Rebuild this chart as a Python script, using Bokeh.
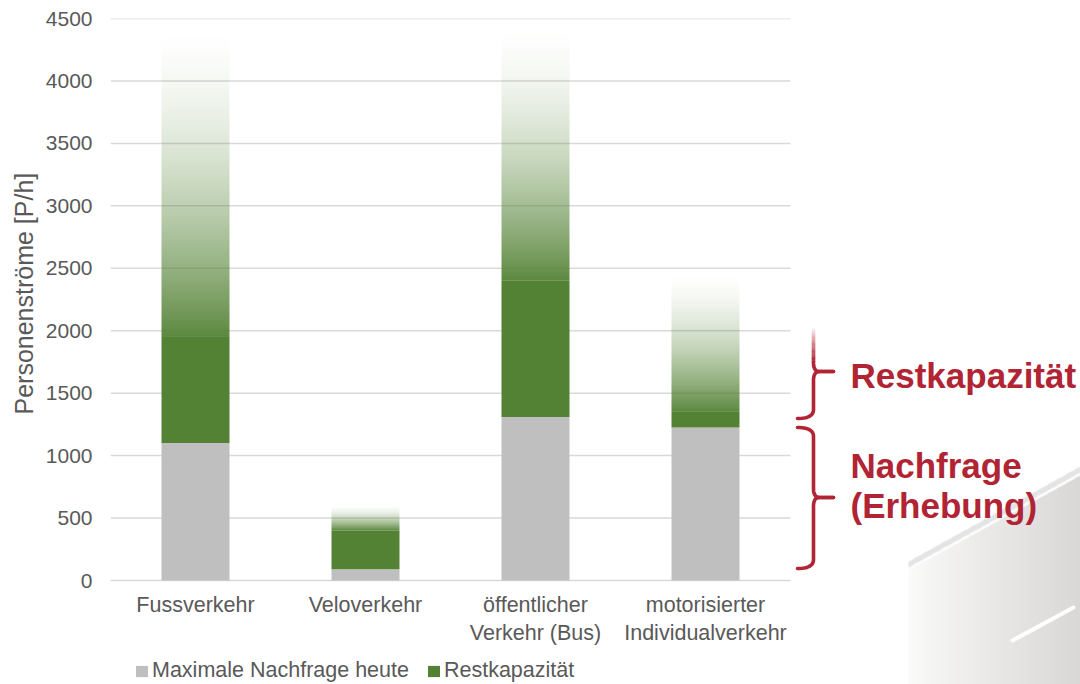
import numpy as np
from bokeh.plotting import figure
from bokeh.models import (ColumnDataSource, Range1d, LinearAxis, FixedTicker,
                          Legend, LegendItem, Title)
from bokeh.core.properties import value
from bokeh.embed import file_html
from bokeh.resources import INLINE

# ---------------- data ----------------
categories = ["Fussverkehr", "Veloverkehr", "öffentlicher\nVerkehr (Bus)",
              "motorisierter\nIndividualverkehr"]
nachfrage = [1100, 90, 1310, 1225]          # Maximale Nachfrage heute (grey)
restkap_sicher = [1950, 400, 2400, 1350]    # top of solid green part
restkap_max = [4500, 600, 4500, 2500]       # top of faded green part
y_ticks = [0, 500, 1000, 1500, 2000, 2500, 3000, 3500, 4000, 4500]
legend_labels = ["Maximale Nachfrage heute", "Restkapazität"]
y_label = "Personenströme [P/h]"
brace_rest = [1297, 1673, 2026]             # bottom, tip, top
brace_nachfrage = [96, 665, 1225]
brace_labels = ["Restkapazität", "Nachfrage", "(Erhebung)"]

# ---------------- styles / layout ----------------
FONT = "Liberation Sans"
GREY_TXT = "#595959"
GREY_BAR = "#BFBFBF"
GREEN = "#548235"
GREEN_RGB = (0x54, 0x82, 0x35)
RED = "#B02434"
GRID = "#D9D9D9"

W, H = 1080, 684
LEFT, TOP = 110, 18
PX_X = 170.0
PX_Y = 562.0 / 4500.0
X_MIN, Y_MAX = -0.5, 4500.0
X_MAX = X_MIN + (W - LEFT) / PX_X
Y_MIN = Y_MAX - (H - TOP) / PX_Y
BRACE_LABEL_SY = [374.5, 464.5, 504.5]      # screen rows of the red labels
BRACE_LABEL_SX = 850


def sx2x(sx):
    return X_MIN + (sx - LEFT) / PX_X


def sy2y(sy):
    return Y_MAX - (sy - TOP) / PX_Y


def rgba_image(r, g, b, a):
    h, w = a.shape
    img = np.empty((h, w), dtype=np.uint32)
    view = img.view(dtype=np.uint8).reshape((h, w, 4))
    view[:, :, 0] = np.clip(r, 0, 255).astype(np.uint8)
    view[:, :, 1] = np.clip(g, 0, 255).astype(np.uint8)
    view[:, :, 2] = np.clip(b, 0, 255).astype(np.uint8)
    view[:, :, 3] = np.clip(a, 0, 255).astype(np.uint8)
    return img


p = figure(width=W, height=H, output_backend="svg", toolbar_location=None,
           x_range=Range1d(X_MIN, X_MAX), y_range=Range1d(Y_MIN, Y_MAX),
           min_border_left=LEFT, min_border_right=0, min_border_top=TOP,
           min_border_bottom=0, x_axis_location=None, y_axis_location=None)
p.outline_line_color = None
p.background_fill_color = "white"
p.border_fill_color = "white"
p.xgrid.visible = False
p.ygrid.visible = False

# ---------------- decoration (bottom right) ----------------
D_L, D_R, D_T, D_B = 908, 1080, 466, 684


def deco_top(sx):
    return 561 + (466 - 561) * (sx - 908) / (1080 - 908)


cols = D_L + np.arange(D_R - D_L) + 0.5
rows = D_B - (np.arange(D_B - D_T) + 0.5)          # row 0 at the bottom
SX, SY = np.meshgrid(cols, rows)
d = SY - deco_top(SX)
u = (SX - D_L) / (D_R - D_L)
wgt = np.clip(0.10 + 0.90 * u ** 0.9, 0, 1)
rr = 255 - wgt * 37
gg = 255 - wgt * 39
bb = 255 - wgt * 41
band = (d >= 0) & (d < 6)
streak = (d >= 6) & (d < 9)
rr = np.where(band, 228, np.where(streak, 253, rr))
gg = np.where(band, 228, np.where(streak, 253, gg))
bb = np.where(band, 228, np.where(streak, 253, bb))
aa = np.where(d >= 0, 255, 0)
p.image_rgba(image=[rgba_image(rr, gg, bb, aa)], x=[sx2x(D_L)], y=[sy2y(D_B)],
             dw=[(D_R - D_L) / PX_X], dh=[(D_B - D_T) / PX_Y])
p.line(x=[sx2x(1012), sx2x(1073)], y=[sy2y(640), sy2y(607)], line_color="white",
       line_width=4, line_alpha=0.95, line_cap="round")

# ---------------- grid ----------------
n_cat = len(categories)
p.segment(x0=X_MIN, x1=n_cat - 0.5, y0=y_ticks, y1=y_ticks,
          line_color=GRID, line_width=1.5)

# ---------------- bars ----------------
xs = list(range(n_cat))
BAR_W = 0.4
src = ColumnDataSource(dict(x=xs, nach=nachfrage, sicher=restkap_sicher))
grey_r = p.vbar(x="x", bottom=0, top="nach", width=BAR_W, source=src,
                fill_color=GREY_BAR, line_color=None)
green_r = p.vbar(x="x", bottom="nach", top="sicher", width=BAR_W, source=src,
                 fill_color=GREEN, line_color=None)

# fading part of the remaining capacity: a vertical alpha gradient image
for i in xs:
    s, m = restkap_sicher[i], restkap_max[i]
    n = max(16, int(round((m - s) * PX_Y)))
    k = np.arange(n).reshape(n, 1)
    alpha = 255 * 0.95 * (1 - (k + 0.5) / n) ** 1.7
    img = rgba_image(np.full((n, 1), GREEN_RGB[0]), np.full((n, 1), GREEN_RGB[1]),
                     np.full((n, 1), GREEN_RGB[2]), alpha)
    p.image_rgba(image=[img], x=[i - BAR_W / 2], y=[s], dw=[BAR_W], dh=[m - s])

# ---------------- braces ----------------
def quad(p0, c, p1, n=14):
    t = np.linspace(0, 1, n)
    x = (1 - t) ** 2 * p0[0] + 2 * (1 - t) * t * c[0] + t ** 2 * p1[0]
    y = (1 - t) ** 2 * p0[1] + 2 * (1 - t) * t * c[1] + t ** 2 * p1[1]
    return list(x), list(y)


XL, XH, XT = sx2x(813), sx2x(797), sx2x(833)
R = 9 / PX_Y
DX = 6 / PX_X
BW = 3.6


def brace_lower(y0, ytip):
    xa, ya = quad((XH, y0), (XL, y0), (XL, y0 + R))
    xb, yb = quad((XL, ytip - R), (XL, ytip), (XL + DX, ytip))
    return xa + xb + [XT], ya + yb + [ytip]


def brace_upper(ytip, y1):
    xa, ya = quad((XL + DX, ytip), (XL, ytip), (XL, ytip + R))
    xb, yb = quad((XL, y1 - R), (XL, y1), (XH, y1))
    return [XT] + xa + xb, [ytip] + ya + yb


# Nachfrage brace
bx, by = brace_lower(brace_nachfrage[0], brace_nachfrage[1])
p.line(bx, by, line_color=RED, line_width=BW, line_join="round", line_cap="round")
bx, by = brace_upper(brace_nachfrage[1], brace_nachfrage[2])
p.line(bx, by, line_color=RED, line_width=BW, line_join="round", line_cap="round")

# Restkapazität brace (top fades out)
bx, by = brace_lower(brace_rest[0], brace_rest[1])
p.line(bx, by, line_color=RED, line_width=BW, line_join="round", line_cap="round")
xa, ya = quad((XL + DX, brace_rest[1]), (XL, brace_rest[1]), (XL, brace_rest[1] + R))
p.line([XT] + xa, [brace_rest[1]] + ya, line_color=RED, line_width=BW,
       line_join="round", line_cap="round")
fade_lo = brace_rest[1] + R
fade_full = brace_rest[1] + 0.25 * (brace_rest[2] - brace_rest[1])
nf = 40
fy = np.linspace(fade_lo, brace_rest[2], nf + 1)
fa = [float(np.clip(1 - ((fy[k] + fy[k + 1]) / 2 - fade_full) / (brace_rest[2] - fade_full), 0, 1))
      for k in range(nf)]
p.segment(x0=XL, x1=XL, y0=list(fy[:-1]), y1=list(fy[1:] + 2), line_color=RED,
          line_width=BW, line_alpha=fa)

p.text(x=[sx2x(BRACE_LABEL_SX)] * 3, y=[sy2y(v) for v in BRACE_LABEL_SY],
       text=brace_labels, text_font=value(FONT), text_font_style="bold",
       text_font_size="35px", text_color=RED, text_baseline="middle",
       text_align="left")

# ---------------- axes ----------------
yax = LinearAxis(ticker=FixedTicker(ticks=y_ticks), axis_line_color=None,
                 major_tick_line_color=None, minor_tick_line_color=None,
                 major_tick_out=0, major_tick_in=0, major_label_standoff=18,
                 major_label_text_font=FONT, major_label_text_font_size="21px",
                 major_label_text_color=GREY_TXT)
p.add_layout(yax, "left")

ytitle = Title(text=y_label, align="left", offset=270, standoff=10,
               text_font=FONT, text_font_size="25px", text_font_style="normal",
               text_color=GREY_TXT)
p.add_layout(ytitle, "left")

xax = LinearAxis(ticker=FixedTicker(ticks=xs),
                 major_label_overrides={i: c for i, c in enumerate(categories)},
                 fixed_location=0, axis_line_color=None,
                 major_tick_line_color=None, minor_tick_line_color=None,
                 major_tick_out=0, major_tick_in=0, major_label_standoff=12,
                 major_label_text_font=FONT, major_label_text_font_size="21.5px",
                 major_label_text_color=GREY_TXT)
p.add_layout(xax, "below")

# ---------------- legend ----------------
legend = Legend(items=[LegendItem(label=legend_labels[0], renderers=[grey_r]),
                       LegendItem(label=legend_labels[1], renderers=[green_r])],
                location=(24, 1), orientation="horizontal", padding=0, margin=0,
                spacing=17, glyph_width=15, glyph_height=14, label_standoff=3,
                label_text_font=FONT, label_text_font_size="21.5px",
                label_text_color=GREY_TXT, border_line_color=None,
                background_fill_alpha=0)
p.add_layout(legend)

open("out.html", "w").write(file_html(p, INLINE))
